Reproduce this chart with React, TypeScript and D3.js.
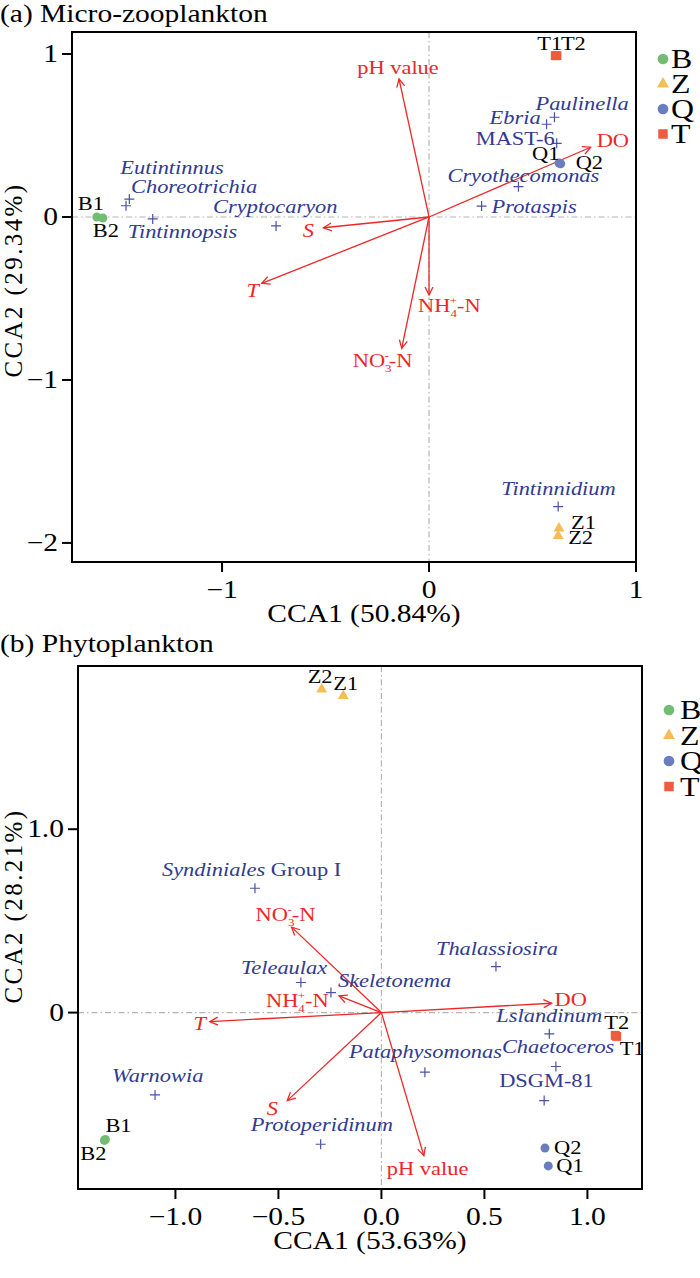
import React from 'react';
import * as d3 from 'd3';

const FONT = '"Liberation Serif", "Times New Roman", serif';
const SX = 1.18; // horizontal stretch of the glyphs in the reference

// ---- (a) Micro-zooplankton ----
const sitesA = [
  { name: 'B1', group: 'B', x: -1.605, y: 0.0 },
  { name: 'B2', group: 'B', x: -1.576, y: -0.006 },
  { name: 'Z1', group: 'Z', x: 0.628, y: -1.91 },
  { name: 'Z2', group: 'Z', x: 0.624, y: -1.957 },
  { name: 'Q1', group: 'Q', x: 0.628, y: 0.331 },
  { name: 'Q2', group: 'Q', x: 0.636, y: 0.327 },
  { name: 'T1', group: 'T', x: 0.61, y: 0.99 },
  { name: 'T2', group: 'T', x: 0.618, y: 0.99 },
];
const speciesA = [
  { name: 'Eutintinnus', x: -1.448, y: 0.11 },
  { name: 'Choreotrichia', x: -1.464, y: 0.069 },
  { name: 'Tintinnopsis', x: -1.335, y: -0.012 },
  { name: 'Cryptocaryon', x: -0.739, y: -0.055 },
  { name: 'Paulinella', x: 0.606, y: 0.612 },
  { name: 'Ebria', x: 0.568, y: 0.569 },
  { name: 'MAST-6', x: 0.617, y: 0.452 },
  { name: 'Cryothecomonas', x: 0.432, y: 0.186 },
  { name: 'Protaspis', x: 0.254, y: 0.067 },
  { name: 'Tintinnidium', x: 0.624, y: -1.777 },
];
const envA = [
  { name: 'pH value', x: -0.145, y: 0.847 },
  { name: 'DO', x: 0.781, y: 0.428 },
  { name: 'S', x: -0.51, y: -0.066 },
  { name: 'T', x: -0.808, y: -0.407 },
  { name: 'NH4+-N', x: 0.0, y: -0.479 },
  { name: 'NO3--N', x: -0.132, y: -0.806 },
];
const xTicksA = [-1, 0, 1];
const yTicksA = [-2, -1, 0, 1];

// ---- (b) Phytoplankton ----
const sitesB = [
  { name: 'B1', group: 'B', x: -1.34, y: -0.692 },
  { name: 'B2', group: 'B', x: -1.345, y: -0.697 },
  { name: 'Z1', group: 'Z', x: -0.185, y: 1.727 },
  { name: 'Z2', group: 'Z', x: -0.29, y: 1.763 },
  { name: 'Q1', group: 'Q', x: 0.81, y: -0.836 },
  { name: 'Q2', group: 'Q', x: 0.794, y: -0.739 },
  { name: 'T1', group: 'T', x: 1.142, y: -0.13 },
  { name: 'T2', group: 'T', x: 1.135, y: -0.124 },
];
const speciesB = [
  { name: 'Syndiniales Group I', x: -0.614, y: 0.678 },
  { name: 'Teleaulax', x: -0.391, y: 0.164 },
  { name: 'Skeletonema', x: -0.245, y: 0.109 },
  { name: 'Thalassiosira', x: 0.556, y: 0.251 },
  { name: 'Lslandinum', x: 0.815, y: -0.116 },
  { name: 'Chaetoceros', x: 0.847, y: -0.294 },
  { name: 'Pataphysomonas', x: 0.211, y: -0.325 },
  { name: 'DSGM-81', x: 0.79, y: -0.48 },
  { name: 'Warnowia', x: -1.099, y: -0.449 },
  { name: 'Protoperidinum', x: -0.295, y: -0.718 },
];
const envB = [
  { name: 'NO3--N', x: -0.436, y: 0.466 },
  { name: 'NH4+-N', x: -0.206, y: 0.091 },
  { name: 'T', x: -0.833, y: -0.049 },
  { name: 'DO', x: 0.826, y: 0.051 },
  { name: 'S', x: -0.457, y: -0.48 },
  { name: 'pH value', x: 0.206, y: -0.78 },
];
const xTicksB = [-1, -0.5, 0, 0.5, 1];
const yTicksB = [0, 1];

const groups = ['B', 'Z', 'Q', 'T'];
const groupColor = { B: '#72bd72', Z: '#f5bd55', Q: '#6a7ebf', T: '#ee5b40' };
const SP_COLOR = '#303a92';
const ENV_COLOR = '#ee2626';

// label offsets (dx, dy, anchor) relative to the point / arrow tip
const offA = {
  site: { B1: [-19, -7], B2: [-10, 19], Z1: [12, 1], Z2: [10, 8], Q1: [-27, -3], Q2: [15, 5], T1: [-18, -6], T2: [4, -6] },
  sp: {
    Eutintinnus: [-9, -25], Choreotrichia: [5, -13], Tintinnopsis: [-25, 19], Cryptocaryon: [-63, -13],
    Paulinella: [-19, -7], Ebria: [-57, 0], 'MAST-6': [-81, 2], Cryothecomonas: [-71, -5],
    Protaspis: [10, 7], Tintinnidium: [-57, -12],
  },
  env: { 'pH value': [-1, -5, 'middle'], DO: [6, 0], S: [-15, 9, 'middle'], T: [-9, 14, 'middle'], 'NH4+-N': [-11, 17], 'NO3--N': [-49, 19] },
};
const offB = {
  site: { B1: [0, -7], B2: [-24, 20], Z1: [-10, -6], Z2: [-14, -6], Q1: [8, 6], Q2: [9, 6], T1: [3, 19], T2: [-11, -6] },
  sp: {
    'Syndiniales Group I': [-93, -12], Teleaulax: [-60, -9], Skeletonema: [7, -6], Thalassiosira: [-60, -12],
    Lslandinum: [-53, -12], Chaetoceros: [-54, -14], Pataphysomonas: [-76, -14], 'DSGM-81': [-45, -14],
    Warnowia: [-43, -13], Protoperidinum: [-70, -13],
  },
  env: { 'NO3--N': [-36, -6], 'NH4+-N': [-73, 11], T: [-10, 8, 'middle'], DO: [3, 3], S: [-15, 14, 'middle'], 'pH value': [-37, 19] },
};

const symbolFor = { B: d3.symbolCircle, Z: d3.symbolTriangle, Q: d3.symbolCircle, T: d3.symbolSquare };
const symbolSize = { B: 64, Z: 52, Q: 64, T: 80 };

function Txt({ x, y, size, fill = '#000', anchor = 'start', italic = false, children }: any) {
  return (
    <text transform={`translate(${x},${y}) scale(${SX},1)`} textAnchor={anchor} fontSize={size}
      fill={fill} fontStyle={italic ? 'italic' : 'normal'} fontFamily={FONT}>{children}</text>
  );
}

function envText(name: string) {
  if (name === 'NH4+-N' || name === 'NO3--N') {
    const base = name.startsWith('NH') ? 'NH' : 'NO';
    const sub = name.startsWith('NH') ? '4' : '3';
    const sup = name.startsWith('NH') ? '+' : '-';
    return [
      <tspan key="a">{base}</tspan>,
      <tspan key="b" fontSize={11} dy={5}>{sub}</tspan>,
      <tspan key="c" fontSize={11} dx={-6} dy={-13}>{sup}</tspan>,
      <tspan key="d" dy={8}>-N</tspan>,
    ];
  }
  return name;
}

function spText(name: string) {
  if (name === 'Syndiniales Group I') {
    return [<tspan key="a" fontStyle="italic">Syndiniales</tspan>, <tspan key="b" fontStyle="normal"> Group I</tspan>];
  }
  return name;
}

function Panel({ id, title, titleY, xLabel, yLabel, yLabelY, box, xDomain, yDomain, xTicks, yTicks, fmtX, fmtY,
  sites, species, env, off, legend }: any) {
  const x = d3.scaleLinear().domain(xDomain).range([box.left, box.right]);
  const y = d3.scaleLinear().domain(yDomain).range([box.bottom, box.top]);
  const ox = x(0), oy = y(0);
  const midX = (box.left + box.right) / 2 + 10;

  return (
    <g>
      <defs>
        <marker id={`arr-${id}`} markerWidth={12} markerHeight={12} refX={0} refY={0}
          viewBox="-10 -6 12 12" orient="auto" markerUnits="userSpaceOnUse">
          <path d="M-8,-4L0,0L-8,4" fill="none" stroke={ENV_COLOR} strokeWidth={1.3} />
        </marker>
      </defs>
      <Txt x={0} y={titleY} size={25}>{title}</Txt>

      {/* reference lines */}
      <line x1={box.left} x2={box.right} y1={oy} y2={oy} stroke="#b4b4b4" strokeWidth={1.2} strokeDasharray="6,3,1.5,3" />
      <line x1={ox} x2={ox} y1={box.top} y2={box.bottom} stroke="#b4b4b4" strokeWidth={1.2} strokeDasharray="6,3,1.5,3" />

      {/* frame */}
      <rect x={box.left} y={box.top} width={box.right - box.left} height={box.bottom - box.top}
        fill="none" stroke="#000" strokeWidth={2} />

      {/* ticks */}
      {xTicks.map((t: number) => (
        <g key={'x' + t}>
          <line x1={x(t)} x2={x(t)} y1={box.bottom} y2={box.bottom + 10} stroke="#000" strokeWidth={2} />
          <Txt x={x(t)} y={box.bottom + 36} size={25} anchor="middle">{fmtX(t)}</Txt>
        </g>
      ))}
      {yTicks.map((t: number) => (
        <g key={'y' + t}>
          <line x1={box.left - 10} x2={box.left} y1={y(t)} y2={y(t)} stroke="#000" strokeWidth={2} />
          <Txt x={box.left - 14} y={y(t) + 8} size={25} anchor="end">{fmtY(t)}</Txt>
        </g>
      ))}
      <Txt x={midX} y={box.bottom + 60} size={25} anchor="middle">{xLabel}</Txt>
      <text transform={`translate(22,${yLabelY}) rotate(-90)`} textAnchor="middle" fontSize={25}
        letterSpacing={2.4} fontFamily={FONT}>{yLabel}</text>

      {/* environmental arrows */}
      {env.map((e: any) => {
        const [dx, dy, anchor] = off.env[e.name];
        return (
          <g key={e.name}>
            <line x1={ox} y1={oy} x2={x(e.x)} y2={y(e.y)} stroke={ENV_COLOR} strokeWidth={1.3}
              markerEnd={`url(#arr-${id})`} />
            <Txt x={x(e.x) + dx} y={y(e.y) + dy} size={19} fill={ENV_COLOR} anchor={anchor || 'start'}
              italic={e.name === 'S' || e.name === 'T'}>{envText(e.name)}</Txt>
          </g>
        );
      })}

      {/* species */}
      {species.map((s: any) => {
        const px = x(s.x), py = y(s.y);
        const [dx, dy] = off.sp[s.name];
        const upright = s.name === 'MAST-6' || s.name === 'DSGM-81';
        return (
          <g key={s.name}>
            <path d={`M${px - 5},${py}h10M${px},${py - 5}v10`} stroke="#4a52a2" strokeWidth={1.2} />
            <Txt x={px + dx} y={py + dy} size={19} fill={SP_COLOR} italic={!upright}>{spText(s.name)}</Txt>
          </g>
        );
      })}

      {/* sites */}
      {sites.map((s: any) => (
        <path key={s.name} transform={`translate(${x(s.x)},${y(s.y)})`}
          d={d3.symbol().type(symbolFor[s.group]).size(symbolSize[s.group])() as string}
          fill={groupColor[s.group]} />
      ))}
      {sites.map((s: any) => {
        const [dx, dy] = off.site[s.name];
        return <Txt key={'l' + s.name} x={x(s.x) + dx} y={y(s.y) + dy} size={19}>{s.name}</Txt>;
      })}

      {/* legend */}
      {groups.map((g, i) => {
        const cy = legend.y + i * legend.step;
        return (
          <g key={g}>
            <path transform={`translate(${legend.mx},${cy})`}
              d={d3.symbol().type(symbolFor[g]).size(g === 'Z' ? 62 : 90)() as string}
              fill={groupColor[g]} />
            <Txt x={legend.tx} y={cy + 9} size={27}>{g}</Txt>
          </g>
        );
      })}
    </g>
  );
}

const fmtA = (t: number) => d3.format('')(t);
const fmtB = (t: number) => d3.format('.1f')(t);
const fmtBy = (t: number) => (t === 0 ? '0' : d3.format('.1f')(t));

export default function App() {
  return (
    <svg width={700} height={1278} style={{ position: 'absolute', left: 0, top: 0, background: '#fff' }}>
      <Panel id="a" title="(a) Micro-zooplankton" titleY={22} xLabel="CCA1 (50.84%)" yLabel="CCA2 (29.34%)" yLabelY={280}
        box={{ left: 72, right: 636, top: 32, bottom: 562 }} xDomain={[-1.725, 1.0]} yDomain={[-2.117, 1.135]}
        xTicks={xTicksA} yTicks={yTicksA} fmtX={fmtA} fmtY={fmtA}
        sites={sitesA} species={speciesA} env={envA} off={offA}
        legend={{ mx: 663, tx: 671, y: 59, step: 25 }} />
      <Panel id="b" title="(b) Phytoplankton" titleY={652} xLabel="CCA1 (53.63%)" yLabel="CCA2 (28.21%)" yLabelY={906}
        box={{ left: 78, right: 642, top: 666, bottom: 1189 }} xDomain={[-1.473, 1.265]} yDomain={[-0.962, 1.89]}
        xTicks={xTicksB} yTicks={yTicksB} fmtX={fmtB} fmtY={fmtBy}
        sites={sitesB} species={speciesB} env={envB} off={offB}
        legend={{ mx: 669, tx: 680, y: 710, step: 25.5 }} />
    </svg>
  );
}
